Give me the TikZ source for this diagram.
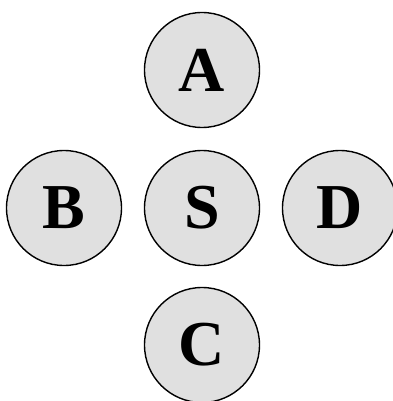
\documentclass[tikz,border=0pt]{standalone}
\usepackage{fontspec}
\setmainfont{Liberation Serif}[BoldFont={Liberation Serif Bold}]
\definecolor{discfill}{HTML}{E0E0E0}
\begin{document}
\begin{tikzpicture}[x=1pt,y=-1pt,
  disc/.style={circle,draw=black,line width=1.4pt,fill=discfill,
    minimum size=115pt,inner sep=0pt,
    font=\fontsize{64}{64}\selectfont\bfseries}]
  \useasboundingbox (0,0) rectangle (392,401);
  \node[disc] (A) at (202,70)  {A};
  \node[disc] (B) at (64,208)  {B};
  \node[disc] (S) at (202,208) {S};
  \node[disc] (D) at (340,208) {D};
  \node[disc] (C) at (202,345) {C};
\end{tikzpicture}
\end{document}
